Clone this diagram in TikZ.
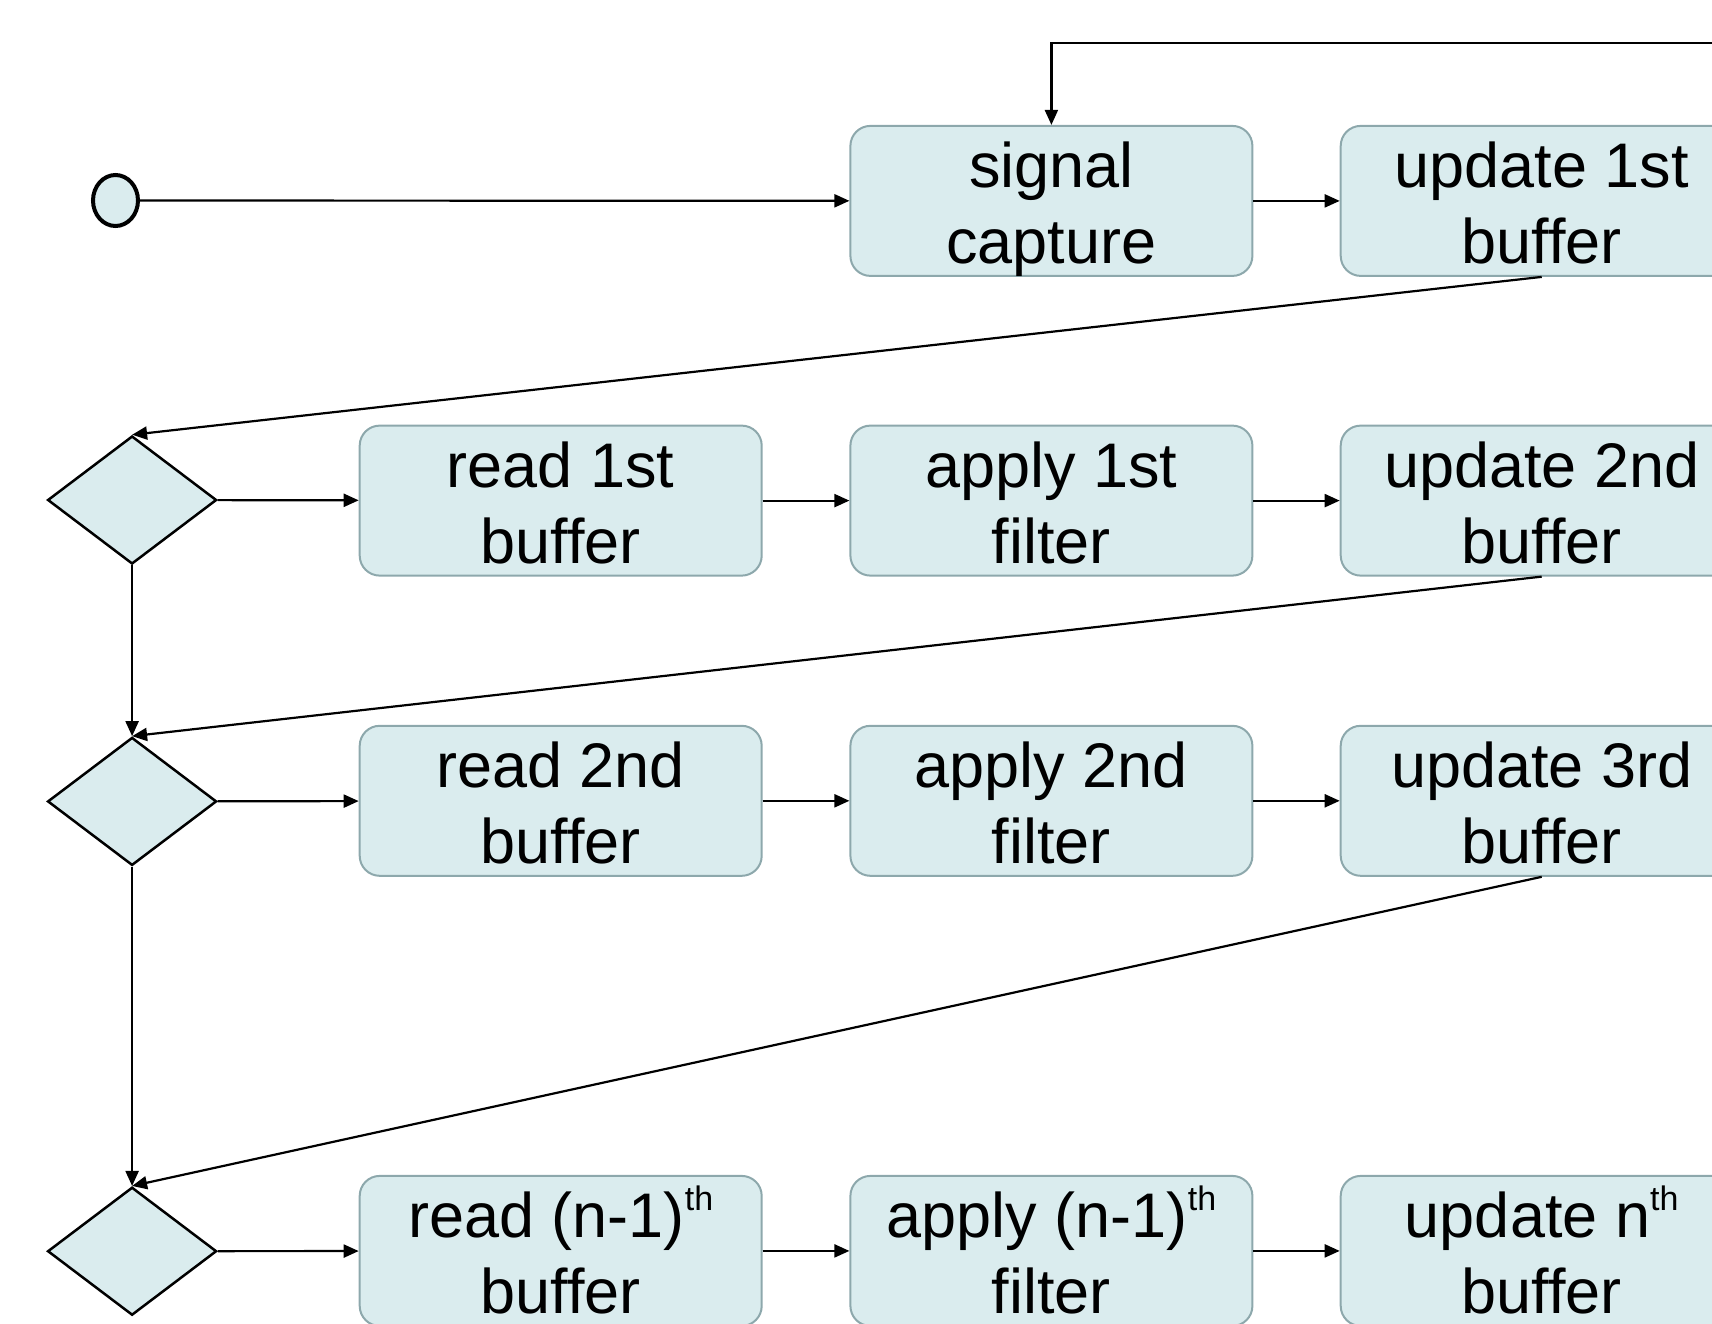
\documentclass[tikz,border=0pt]{standalone}
\usepackage{fontspec}
\setmainfont{Liberation Sans}
\usetikzlibrary{arrows.meta,shapes.geometric}

\definecolor{boxfill}{HTML}{DAECEE}
\definecolor{boxline}{HTML}{8DA8AC}

% raised small ordinal suffix
\newcommand{\ordsup}[1]{\raisebox{0.42em}{\fontsize{34}{34}\selectfont #1}}

\tikzset{
  stepbox/.style={rectangle, rounded corners=20pt, draw=boxline, line width=2pt,
    fill=boxfill, minimum width=402pt, minimum height=150pt, inner sep=0pt,
    align=center, font=\fontsize{63}{76}\selectfont,
    text height=137pt, text depth=12pt},
  branch/.style={diamond, draw=black, line width=2.5pt, fill=boxfill,
    minimum width=169pt, minimum height=128pt, inner sep=0pt},
  startpt/.style={ellipse, draw=black, line width=4pt, fill=boxfill,
    minimum width=45pt, minimum height=51pt, inner sep=0pt},
  flow/.style={line width=2.2pt, -{Triangle[length=15pt,width=13pt]}}
}

\begin{document}
\begin{tikzpicture}[x=1pt,y=-1pt]
  \useasboundingbox (0,0) rectangle (1712,1323);

  % start marker
  \node[startpt] (start) at (115.5,200.5) {};

  % first row
  \node[stepbox] (sc) at (1051.4,200.9) {signal\\capture};
  \node[stepbox] (u1) at (1541.7,200.9) {update 1st\\buffer};

  % decision points
  \node[branch] (d2) at (132.1,500) {};
  \node[branch] (d3) at (132.1,801.4) {};
  \node[branch] (d4) at (132.1,1251.2) {};

  % second row
  \node[stepbox] (r1) at (560.7,500.6) {read 1st\\buffer};
  \node[stepbox] (a1) at (1051.4,500.6) {apply 1st\\filter};
  \node[stepbox] (u2) at (1541.7,500.6) {update 2nd\\buffer};

  % third row
  \node[stepbox] (r2) at (560.7,800.8) {read 2nd\\buffer};
  \node[stepbox] (a2) at (1051.4,800.8) {apply 2nd\\filter};
  \node[stepbox] (u3) at (1541.7,800.8) {update 3rd\\buffer};

  % last row
  \node[stepbox] (rn) at (560.7,1250.9) {read (n-1)\ordsup{th}\\buffer};
  \node[stepbox] (an) at (1051.4,1250.9) {apply (n-1)\ordsup{th}\\filter};
  \node[stepbox] (un) at (1541.7,1250.9) {update n\ordsup{th}\\buffer};

  % loop back from the right
  \coordinate (loop) at (1712,42.6);

  % connectors
  \draw[flow] (start) -- (sc);
  \draw[flow] (sc) -- (u1);
  \draw[flow] (loop) -| (sc.north);

  \draw[flow] (u1.south) -- (d2.north);
  \draw[flow] (d2) -- (r1);
  \draw[flow] (r1) -- (a1);
  \draw[flow] (a1) -- (u2);

  \draw[flow] (d2.south) -- (d3.north);
  \draw[flow] (u2.south) -- (d3.north);
  \draw[flow] (d3) -- (r2);
  \draw[flow] (r2) -- (a2);
  \draw[flow] (a2) -- (u3);

  \draw[flow] (d3.south) -- (d4.north);
  \draw[flow] (u3.south) -- (d4.north);
  \draw[flow] (d4) -- (rn);
  \draw[flow] (rn) -- (an);
  \draw[flow] (an) -- (un);
\end{tikzpicture}
\end{document}
